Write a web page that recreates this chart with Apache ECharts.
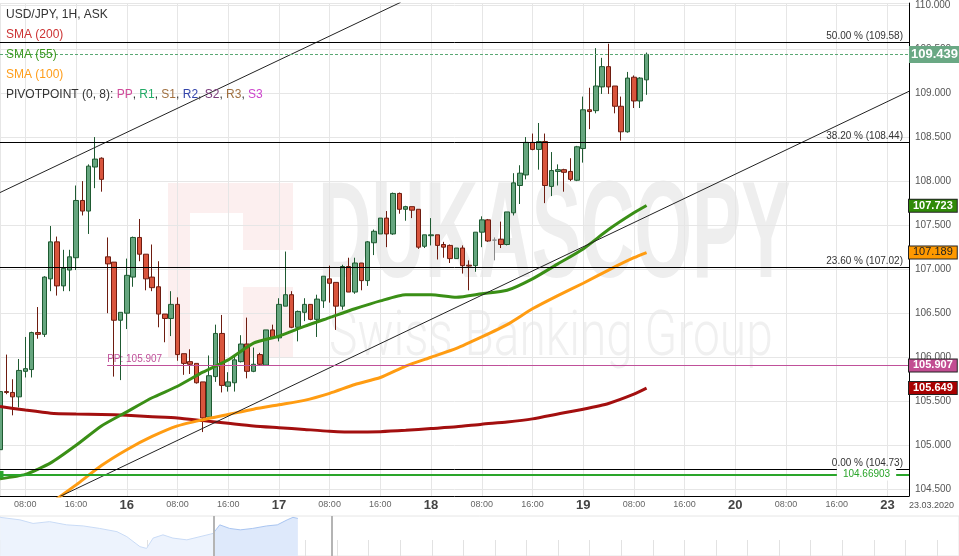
<!DOCTYPE html>
<html><head><meta charset="utf-8">
<script src="https://cdn.jsdelivr.net/npm/echarts@6/dist/echarts.min.js"></script>
<style>html,body{margin:0;padding:0;background:#fff;overflow:hidden}#c{width:959px;height:556px}</style>
</head><body><div id="c"></div>
<script>
// ---------- DATA ----------
const FIRST_HOUR = 4; // trading-hour index of first candle (16 Mar 00:00 = 24)
const opens = [
104.95,105.61,105.60,105.55,105.84,105.86,106.28,106.26,106.89,107.31,
106.81,106.99,107.13,107.78,107.66,108.16,108.26,107.14,107.08,106.42,
106.50,106.91,107.36,107.17,106.91,106.80,106.49,106.44,106.60,106.04,
105.95,105.93,105.72,105.32,105.78,106.27,105.67,105.71,105.95,106.15,
105.84,106.03,105.91,106.31,106.22,106.58,106.71,106.34,106.51,106.60,
106.43,106.64,106.89,106.85,106.58,107.03,106.74,107.07,106.87,107.30,
107.40,107.58,107.40,107.86,107.68,107.71,107.68,107.26,107.38,107.39,
107.28,107.27,107.12,107.24,107.045,107.04,107.42,107.56,107.33,107.34,
107.28,107.64,107.95,108.07,108.44,108.36,108.45,107.94,108.11,108.13,
108.11,108.01,108.37,108.81,108.80,109.07,109.30,109.08,108.85,108.56,
109.18,108.91,109.15];
const closes = [
105.61,105.60,105.55,105.85,105.87,106.28,106.26,106.91,107.31,106.81,
107.01,107.14,107.78,107.66,108.17,108.25,108.02,107.06,106.42,106.51,
106.93,107.36,107.17,106.89,106.79,106.49,106.44,106.60,106.03,105.93,
105.92,105.71,105.31,105.79,106.27,105.68,105.72,105.97,106.15,105.84,
105.92,105.92,106.31,106.22,106.60,106.71,106.34,106.52,106.60,106.43,
106.66,106.92,106.84,106.58,107.03,106.74,107.07,106.87,107.31,107.43,
107.58,107.40,107.86,107.68,107.71,107.67,107.25,107.39,107.39,107.27,
107.25,107.12,107.24,107.04,107.035,107.42,107.56,107.32,107.33,107.28,
107.65,107.98,108.09,108.44,108.36,108.45,107.95,108.12,108.13,108.10,
108.02,108.39,108.81,108.79,109.08,109.30,109.07,108.85,108.56,109.17,
108.91,109.17,109.439];
const lows = [
104.94,105.58,105.34,105.43,105.77,105.77,106.21,106.23,106.75,106.70,
106.75,106.75,106.99,107.61,107.40,107.92,107.88,106.50,105.78,105.74,
106.32,106.80,107.09,106.76,106.75,106.34,106.17,106.24,105.96,105.80,
105.81,105.70,105.15,105.30,105.72,105.60,105.61,105.61,105.94,105.76,
105.83,105.91,105.91,106.21,106.18,106.58,106.33,106.18,106.41,106.42,
106.23,106.56,106.62,106.31,106.54,106.74,106.72,106.76,106.81,107.16,
107.40,107.25,107.39,107.63,107.55,107.58,107.23,107.24,107.27,107.11,
107.13,107.07,107.12,106.95,106.76,106.97,107.25,107.31,107.10,107.24,
107.27,107.61,107.74,108.02,108.35,108.13,107.75,107.83,107.95,107.88,
108.00,108.00,108.21,108.59,108.77,108.99,108.99,108.77,108.46,108.55,
108.83,108.83,108.98];
const highs = [
105.62,106.03,105.75,105.98,106.23,106.29,106.57,106.92,107.49,107.37,
107.22,107.22,107.95,108.00,108.19,108.50,108.27,107.36,107.08,106.51,
107.12,107.37,107.57,107.17,107.28,107.09,106.49,106.75,106.68,106.04,
106.09,105.93,105.72,106.02,106.37,106.48,105.83,106.02,106.25,106.45,
106.11,106.05,106.31,106.37,106.67,107.20,106.75,106.53,106.67,106.60,
106.71,106.92,107.04,106.85,107.05,107.13,107.13,107.07,107.32,107.45,
107.58,107.66,107.87,107.87,107.72,107.71,107.68,107.39,107.58,107.39,
107.31,107.28,107.24,107.27,107.10,107.42,107.60,107.57,107.36,107.54,
107.65,108.09,108.18,108.50,108.54,108.66,108.54,108.33,108.19,108.14,
108.26,108.40,108.96,109.06,109.51,109.40,109.56,109.08,108.96,109.24,
109.20,109.18,109.46];

const smaHours = [4,8,12,16,20,24,28,32,36,40,44,48,52,56,60,64,68,72,76,80,84,88,92,96,100,104,106];
const sma200 = [105.44,105.40,105.365,105.355,105.35,105.34,105.325,105.31,105.28,105.25,105.22,105.20,105.18,105.16,105.15,105.155,105.17,105.19,105.21,105.24,105.265,105.30,105.355,105.41,105.475,105.58,105.649];
const sma55  = [104.62,104.67,104.80,105.00,105.22,105.38,105.54,105.67,105.83,105.97,106.16,106.24,106.35,106.45,106.55,106.64,106.71,106.71,106.68,106.72,106.76,106.89,107.06,107.23,107.45,107.64,107.723];
const sma100Hours = [12,16,20,24,28,32,36,40,44,48,52,56,60,64,68,72,76,80,84,88,92,96,100,104,106];
const sma100 = [104.34,104.55,104.77,104.95,105.10,105.22,105.29,105.35,105.41,105.46,105.51,105.59,105.69,105.77,105.90,106.00,106.10,106.23,106.37,106.55,106.70,106.84,106.99,107.13,107.189];

const fibLevels = [109.58, 108.44, 107.02, 104.73];
const fibPercents = ['50.00 %', '38.20 %', '23.60 %', '0.00 %'];
const pivotPP = 105.907;
const pivotStartHour = 20.9;
const lastPrice = 109.439;
const targetLevel = 104.66903;
const targetLabelHour = 140.7;
const upperChannel = [[4.0, 107.87], [67.2, 110.03]];
const lowerChannel = [[13.5, 104.42], [147.4, 109.02]];

const dayTickHours = [24, 48, 72, 96, 120, 144];
const dayTickLabels = ['16', '17', '18', '19', '20', '23'];

const navHours  = [-256,-232,-216,-196,-175,-155,-135,-114,-102,-86,-78,-70,-58,-46,-29,-13,3,11,23,36,51,68,81,93,100,106];
const navValues = [111.9,111.2,110.2,110.7,109.8,109.5,108.8,107.9,106.5,103.7,103.2,106.1,107.0,106.1,105.6,106.5,107.4,109.8,108.8,108.4,108.8,109.5,109.8,111.2,111.9,111.6];

// ---------- CHART ----------
const FONT = '"Liberation Sans", Arial, sans-serif';
const X_MIN = 4.0, X_MAX = 147.4;
const Y_MIN = 104.424, Y_MAX = 110.022;
const NAV_X_MIN = -256.2, NAV_X_MAX = 909.9;

const candles = opens.map((o, i) => [FIRST_HOUR + i, o, closes[i], lows[i], highs[i]]);
const pairs = (xs, ys) => xs.map((x, i) => [x, ys[i]]);
const navAll = pairs(navHours, navValues);
const navBefore = navAll.filter(p => p[0] <= 3);
const navSelected = navAll.filter(p => p[0] >= 3);

function boxLabel(text, bg, color, bold) {
  return { show: true, position: 'end', distance: 0, formatter: text, backgroundColor: bg,
    color: color, fontWeight: bold ? 'bold' : 'normal', fontSize: 11, lineHeight: 11,
    padding: [1, 4, 0, 4], borderColor: '#222', borderWidth: 1, fontFamily: FONT };
}
function endBox(value, bg, color, bold) {
  return { silent: true, symbol: 'none', animation: false,
    lineStyle: { color: 'rgba(0,0,0,0)', width: 1 },
    label: boxLabel(value.toFixed(3), bg, color, bold),
    data: [{ yAxis: value }] };
}

const fibLines = fibLevels.map((v, i) => ({
  yAxis: v,
  lineStyle: { color: '#000', width: 1, type: 'solid' },
  label: { show: true, position: 'insideEndTop', distance: [6, 1], formatter: fibPercents[i] + ' (' + v.toFixed(2) + ')',
    color: '#333', fontSize: 10, fontFamily: FONT }
}));

const option = {
  animation: false,
  backgroundColor: '#ffffff',
  textStyle: { fontFamily: FONT },
  grid: [
    { left: 0, top: 0, right: 50, bottom: 60 },
    { left: 0, right: 0, top: 516, bottom: 0, show: true, borderColor: '#e6e6e6', borderWidth: 1, backgroundColor: 'transparent' }
  ],
  xAxis: [
    { type: 'value', gridIndex: 0, min: X_MIN, max: X_MAX, splitNumber: 18, minInterval: 8, maxInterval: 8,
      axisLine: { show: true, onZero: false, lineStyle: { color: '#000', width: 1 } },
      axisTick: { show: false },
      splitLine: { show: true, lineStyle: { color: '#e6e6e6', width: 1 } },
      axisLabel: { show: true, margin: 2, color: '#666', fontSize: 9, lineHeight: 14, showMinLabel: false, showMaxLabel: false,
        formatter: function (v) {
          const r = Math.round(v);
          const d = dayTickHours.indexOf(r);
          if (d >= 0) return '{day|' + dayTickLabels[d] + '}';
          const hh = ((r % 24) + 24) % 24;
          return '{hr|' + (hh < 10 ? '0' : '') + hh + ':00}';
        },
        rich: {
          day: { fontSize: 13, fontWeight: 'bold', color: '#444', lineHeight: 14, fontFamily: FONT },
          hr: { fontSize: 9, color: '#666', lineHeight: 14, fontFamily: FONT }
        }
      }
    },
    { type: 'value', gridIndex: 1, min: NAV_X_MIN, max: NAV_X_MAX, splitNumber: 30, minInterval: 38.4, maxInterval: 38.4,
      axisLine: { show: false }, axisLabel: { show: false }, splitLine: { show: false },
      axisTick: { show: true, inside: true, length: 16, lineStyle: { color: '#e2e2e2' } } }
  ],
  yAxis: [
    { type: 'value', gridIndex: 0, position: 'right', min: Y_MIN, max: Y_MAX, splitNumber: 11, minInterval: 0.5, maxInterval: 0.5,
      axisLine: { show: true, onZero: false, lineStyle: { color: '#000', width: 1 } },
      axisTick: { show: false },
      splitLine: { show: true, lineStyle: { color: '#e6e6e6', width: 1 } },
      axisLabel: { show: true, margin: 6, color: '#555', fontSize: 10, showMinLabel: false, showMaxLabel: false,
        formatter: v => v.toFixed(3) }
    },
    { type: 'value', gridIndex: 1, min: 101.08, max: 112.28, show: false }
  ],
  series: [
    {
      name: 'USD/JPY', type: 'candlestick', xAxisIndex: 0, yAxisIndex: 0, z: 2,
      dimensions: ['time', 'open', 'close', 'lowest', 'highest'],
      encode: { x: 'time', y: ['open', 'close', 'lowest', 'highest'] },
      data: candles, barWidth: 5, clip: true,
      itemStyle: { color: '#66a67f', color0: '#d9553d', borderColor: '#1e5a31', borderColor0: '#6e1c10', borderColorDoji: '#8a8a8a', borderWidth: 1 },
      markLine: {
        silent: true, symbol: 'none', animation: false, precision: 3,
        data: fibLines.concat([
          { yAxis: lastPrice, lineStyle: { color: '#5aa874', width: 1, type: [3, 2] },
            label: { show: true, position: 'end', distance: 0, formatter: lastPrice.toFixed(3), backgroundColor: '#6aa884',
              color: '#fff', fontWeight: 'bold', fontSize: 13, lineHeight: 14, padding: [2, 2, 1, 2], fontFamily: FONT } },
          [ { coord: [pivotStartHour, pivotPP], lineStyle: { color: '#c0509a', width: 1, type: 'solid' },
              label: { show: true, position: 'insideStartTop', distance: [0, 1], formatter: 'PP: ' + pivotPP.toFixed(3), color: '#c0509a', fontSize: 10, fontFamily: FONT } },
            { coord: [X_MAX, pivotPP] } ],
          [ { coord: [X_MAX - 0.01, pivotPP], lineStyle: { color: 'rgba(0,0,0,0)', width: 1 },
              label: boxLabel(pivotPP.toFixed(3), '#c24d92', '#fff', true) },
            { coord: [X_MAX, pivotPP] } ],
          { yAxis: targetLevel, symbol: ['arrow', 'arrow'], symbolSize: [7, 7],
            lineStyle: { color: '#2aa52a', width: 2, type: 'solid' }, label: { show: false } }
        ])
      },
      markPoint: {
        silent: true, animation: false,
        data: [{ coord: [targetLabelHour, targetLevel], symbol: 'rect', symbolSize: 1,
          itemStyle: { color: 'rgba(0,0,0,0)' },
          label: { show: true, position: 'inside', formatter: String(targetLevel), color: '#2aa52a', fontSize: 10,
            backgroundColor: '#fff', padding: [1, 6], fontFamily: FONT } }]
      }
    },
    { name: 'SMA (200)', type: 'line', z: 3, data: pairs(smaHours, sma200), showSymbol: false, smooth: 0.2, clip: true,
      lineStyle: { color: '#a30f0f', width: 3 }, markLine: endBox(sma200[sma200.length - 1], '#a80000', '#fff', true) },
    { name: 'SMA (55)', type: 'line', z: 3, data: pairs(smaHours, sma55), showSymbol: false, smooth: 0.2, clip: true,
      lineStyle: { color: '#3a8f16', width: 3 }, markLine: endBox(sma55[sma55.length - 1], '#2f8a08', '#fff', true) },
    { name: 'SMA (100)', type: 'line', z: 3, data: pairs(sma100Hours, sma100), showSymbol: false, smooth: 0.2, clip: true,
      lineStyle: { color: '#ff9c12', width: 3 }, markLine: endBox(sma100[sma100.length - 1], '#ff9900', '#222', false) },
    { name: 'channel upper', type: 'line', z: 3, data: upperChannel, showSymbol: false, clip: true,
      lineStyle: { color: '#222', width: 1 } },
    { name: 'channel lower', type: 'line', z: 3, data: lowerChannel, showSymbol: false, clip: true,
      lineStyle: { color: '#222', width: 1 } },
    { name: 'nav', type: 'line', xAxisIndex: 1, yAxisIndex: 1, data: navBefore, showSymbol: false,
      lineStyle: { color: '#c9dbf6', width: 1 }, areaStyle: { color: '#edf3fd', opacity: 1, origin: 'start' } },
    { name: 'nav sel', type: 'line', xAxisIndex: 1, yAxisIndex: 1, data: navSelected, showSymbol: false,
      lineStyle: { color: '#a9c5f1', width: 1 }, areaStyle: { color: '#dee9fb', opacity: 1, origin: 'start' },
      markLine: { silent: true, symbol: 'none', animation: false, label: { show: false },
        lineStyle: { color: '#b4b4b4', width: 2, type: 'solid' },
        data: [{ xAxis: X_MIN }, { xAxis: X_MAX }] } }
  ],
  graphic: { elements: [
    { type: 'rect', z: -20, silent: true, shape: { x: 168, y: 183, width: 125, height: 175 }, style: { fill: '#fcefef' } },
    { type: 'rect', z: -19, silent: true, shape: { x: 190, y: 213, width: 53, height: 145 }, style: { fill: '#ffffff' } },
    { type: 'rect', z: -19, silent: true, shape: { x: 190, y: 250, width: 103, height: 37 }, style: { fill: '#ffffff' } },
    { type: 'text', z: -18, silent: true, x: 318, y: 239, scaleX: 0.54, style: { text: 'DUKASCOPY', x: 0, y: 0,
      font: 'bold 137px "Liberation Sans", Arial, sans-serif', fill: '#eeeeee', textAlign: 'left', textVerticalAlign: 'middle' } },
    { type: 'text', z: -18, silent: true, x: 329, y: 339, scaleX: 0.76, style: { text: 'Swiss Banking Group', x: 0, y: 0,
      font: '300 63px Roboto, "Liberation Sans", sans-serif', fill: '#f0f0f0', textAlign: 'left', textVerticalAlign: 'middle' } },
    { type: 'text', z: 100, silent: true, x: 6, y: 15, style: { text: 'USD/JPY, 1H, ASK', font: '12px "Liberation Sans", Arial, sans-serif', fill: '#333', textVerticalAlign: 'middle' } },
    { type: 'text', z: 100, silent: true, x: 6, y: 35, style: { text: 'SMA (200)', font: '12px "Liberation Sans", Arial, sans-serif', fill: '#cc3333', textVerticalAlign: 'middle' } },
    { type: 'text', z: 100, silent: true, x: 6, y: 55, style: { text: 'SMA (55)', font: '12px "Liberation Sans", Arial, sans-serif', fill: '#3f9a22', textVerticalAlign: 'middle' } },
    { type: 'text', z: 100, silent: true, x: 6, y: 75, style: { text: 'SMA (100)', font: '12px "Liberation Sans", Arial, sans-serif', fill: '#ff9d1a', textVerticalAlign: 'middle' } },
    { type: 'text', z: 100, silent: true, x: 6, y: 95, style: {
      text: 'PIVOTPOINT (0, 8): {pp|PP}, {r1|R1}, {s1|S1}, {r2|R2}, {s2|S2}, {r3|R3}, {s3|S3}',
      font: '12px "Liberation Sans", Arial, sans-serif', fill: '#333', textVerticalAlign: 'middle',
      rich: {
        pp: { fill: '#d04a9a', font: '12px "Liberation Sans", Arial, sans-serif' },
        r1: { fill: '#22aa66', font: '12px "Liberation Sans", Arial, sans-serif' },
        s1: { fill: '#a07040', font: '12px "Liberation Sans", Arial, sans-serif' },
        r2: { fill: '#3344aa', font: '12px "Liberation Sans", Arial, sans-serif' },
        s2: { fill: '#7a3a7a', font: '12px "Liberation Sans", Arial, sans-serif' },
        r3: { fill: '#a07040', font: '12px "Liberation Sans", Arial, sans-serif' },
        s3: { fill: '#cc44cc', font: '12px "Liberation Sans", Arial, sans-serif' }
      } } },
    { type: 'text', z: 100, silent: true, x: 954, y: 506, style: { text: '23.03.2020', font: '9px "Liberation Sans", Arial, sans-serif', fill: '#555', textAlign: 'right', textVerticalAlign: 'middle' } }
  ] }
};

const chart = echarts.init(document.getElementById('c'), null, { renderer: 'canvas', width: 959, height: 556 });
chart.setOption(option);
</script>
</body></html>
